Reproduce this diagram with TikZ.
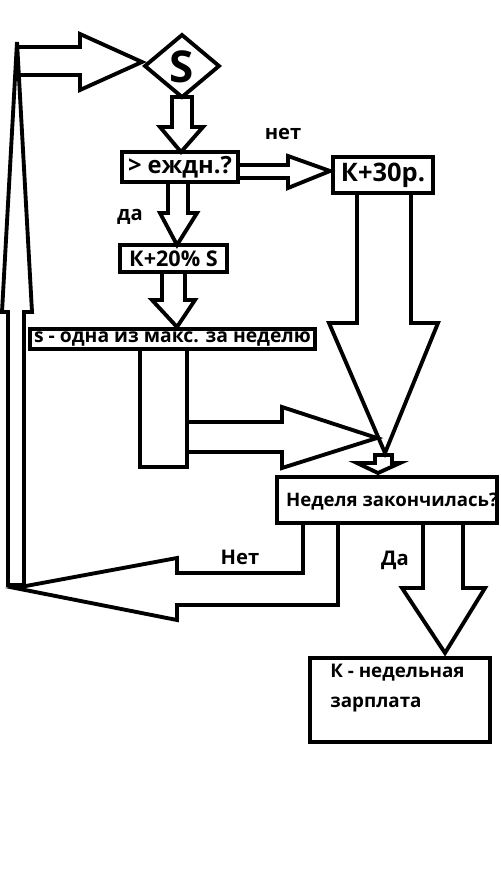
\documentclass[tikz,border=0pt]{standalone}
\usepackage{fontspec}
\setmainfont{Open Sans}
\usetikzlibrary{positioning}
\tikzset{
  box/.style={
    draw,
    line width=2.2pt,
    fill=white,
    inner sep=0pt,
    font=\bfseries\fontsize{11}{16}\selectfont,
  },
  blockarrow/.style={
    draw,
    line width=2.2pt,
    line join=miter,
  },
  lbl/.style={
    font=\bfseries\fontsize{11.5}{16}\selectfont,
    inner sep=0pt,
  },
}
\newcommand{\fsz}[1]{\bfseries\fontsize{#1}{17}\selectfont}

\begin{document}
\begin{tikzpicture}[x=0.02cm,y=-0.02cm]
		\useasboundingbox[fill=white] (0,0) rectangle (500,888);

		% nodes
		\node[lbl,font=\fsz{25}] (start) at (182,67) {S};
		\node[box,font=\fsz{13.5},minimum width=2.32cm,minimum height=0.6cm] (daily) at (180,167) {> еждн.?};
		\node[box,font=\fsz{14.5},minimum width=2.0cm,minimum height=0.72cm] (plus30) at (383,175) {К+30р.};
		\node[box,font=\fsz{12.3},minimum width=2.14cm,minimum height=0.54cm] (plus20) at (173.5,258.5) {К+20\% S};
		\node[box,minimum width=5.7cm,minimum height=0.4cm] (maxweek) at (172.5,339) {s - одна из макс. за неделю};
		\node[box,minimum width=4.4cm,minimum height=0.92cm] (weekend) at (387,500) {};
		\node[lbl,font=\fsz{10.6}] (weekendtxt) at (392,502) {Неделя закончилась?};
		\node[box,minimum width=3.6cm,minimum height=1.68cm] (salary) at (400,700) {};
		\node[lbl,font=\fsz{10.7},align=left,anchor=west] (salarytxt) at (330,688) {К - недельная\\зарплата};

		% diamond round S
		\draw[blockarrow] (start)+(-37,-1) -- +(0,-32) -- +(37,-1) -- +(0,30) -- cycle;

		% labels
		\node[lbl] (no1) at (283,134) {нет};
		\node[lbl] (yes1) at (130,217) {да};
		\node[lbl] (no2) at (240,557) {Нет};
		\node[lbl] (yes2) at (395,560) {Да};

		% block arrows
		\draw[blockarrow] (8,585) -- (8,312) -- (2,312) -- (17,42) -- (32,312)
			-- (24,312) -- (24,585) -- cycle;
		\draw[blockarrow] (17,47) -- (80,47) -- (80,34) -- (142,62) -- (80,90)
			-- (80,75) -- (17,75);
		\draw[blockarrow] (172,97) -- (172,127) -- (160,127) -- (181,152) -- (203,127)
			-- (192,127) -- (192,97) -- cycle;
		\draw[blockarrow] (168,182) -- (168,213) -- (160,213) -- (177,245) -- (197,213)
			-- (188,213) -- (188,182);
		\draw[blockarrow] (162,272) -- (162,300) -- (152,300) -- (177,327) -- (195,300)
			-- (185,300) -- (185,272);
		\draw[blockarrow] (238,165) -- (288,165) -- (288,156) -- (330,171) -- (288,188)
			-- (288,178) -- (238,178);
		\draw[blockarrow] (357,193) -- (357,323) -- (329,323) -- (385,453) -- (438,323)
			-- (411,323) -- (411,193);
		\draw[blockarrow] (140,349) rectangle (187,467);
		\draw[blockarrow] (187,452) -- (282,452) -- (282,468) -- (377,438) -- (282,407)
			-- (282,422) -- (187,422);
		\draw[blockarrow] (375,455) -- (375,463) -- (357,463) -- (378,473) -- (400,463)
			-- (392,463) -- (392,455) -- cycle;
		\draw[blockarrow] (303,523) -- (303,573) -- (177,573) -- (177,558) -- (15,588)
			-- (177,620) -- (177,605) -- (338,605) -- (338,523);
		\draw[blockarrow] (423,523) -- (423,588) -- (402,588) -- (445,653) -- (485,588)
			-- (463,588) -- (463,523);
	\end{tikzpicture}
\end{document}
